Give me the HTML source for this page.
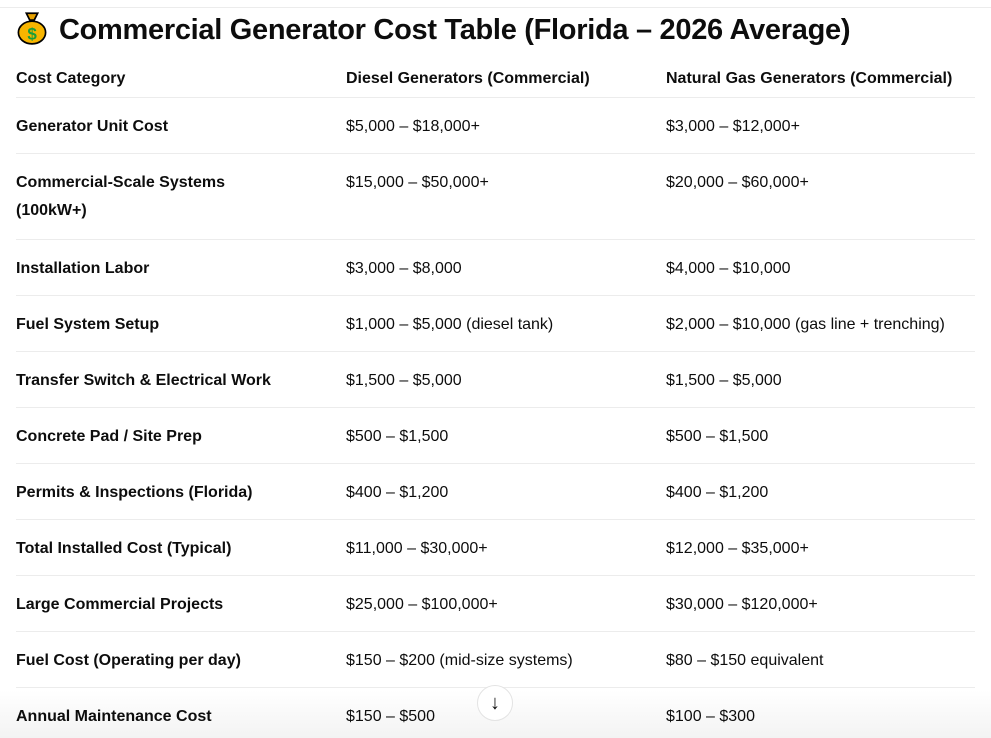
<!DOCTYPE html>
<html><head><meta charset="utf-8"><style>
body{margin:0;width:991px;height:738px;background:#fff;font-family:"Liberation Sans",sans-serif;color:#0d0d0d;overflow:hidden;position:relative}
.top{position:absolute;left:0;top:7px;width:991px;height:1px;background:#ececec}
h1{position:absolute;left:16px;top:11px;margin:0;font-size:29px;font-weight:bold;line-height:38px;white-space:nowrap;letter-spacing:-0.3px}
.bag{display:inline-block;width:32px;height:34px;vertical-align:-6px;margin-right:11px}
.c{position:absolute;font-size:16px;line-height:28px;white-space:nowrap;z-index:2}
.b{font-weight:bold}
.h{font-weight:bold}
.sep{position:absolute;left:16px;width:959px;height:1px;background:#ececec}
.fade{position:absolute;left:0;top:690px;width:991px;height:48px;background:linear-gradient(rgba(255,255,255,0),rgba(243,243,243,1));z-index:1}
.btn{position:absolute;left:477px;top:685px;width:36px;height:36px;border-radius:50%;background:#fff;border:1px solid #e3e3e3;box-sizing:border-box;text-align:center;line-height:34px;font-size:20px;z-index:3}
</style></head><body>
<div class="top"></div>
<h1><svg class="bag" viewBox="0 0 28 30"><path d="M9 2h10l-3 6h-4z" fill="#e6a100" stroke="#000" stroke-width="1.5"/><ellipse cx="14" cy="19" rx="12" ry="10" fill="#f7b500" stroke="#000" stroke-width="1.5"/><text x="14" y="25" font-size="15" text-anchor="middle" fill="#1a9e3a" font-family="Liberation Sans" font-weight="bold">$</text></svg>Commercial Generator Cost Table (Florida – 2026 Average)</h1>
<div id="t"></div>
<div class="fade"></div>
<div class="btn">↓</div>
<script>
const cats=["Generator Unit Cost","Commercial-Scale Systems|(100kW+)","Installation Labor","Fuel System Setup","Transfer Switch & Electrical Work","Concrete Pad / Site Prep","Permits & Inspections (Florida)","Total Installed Cost (Typical)","Large Commercial Projects","Fuel Cost (Operating per day)","Annual Maintenance Cost"];
const diesel=["$5,000 – $18,000+","$15,000 – $50,000+","$3,000 – $8,000","$1,000 – $5,000 (diesel tank)","$1,500 – $5,000","$500 – $1,500","$400 – $1,200","$11,000 – $30,000+","$25,000 – $100,000+","$150 – $200 (mid-size systems)","$150 – $500"];
const gas=["$3,000 – $12,000+","$20,000 – $60,000+","$4,000 – $10,000","$2,000 – $10,000 (gas line + trenching)","$1,500 – $5,000","$500 – $1,500","$400 – $1,200","$12,000 – $35,000+","$30,000 – $120,000+","$80 – $150 equivalent","$100 – $300"];
const headers=["Cost Category","Diesel Generators (Commercial)","Natural Gas Generators (Commercial)"];
const xs=[16,346,666];
const t=document.getElementById('t');
function cell(txt,x,y,cls,name){const d=document.createElement('div');d.className='c '+cls;d.style.left=x+'px';d.style.top=y+'px';d.innerHTML=txt.split('|').join('<br>');


t.appendChild(d);}
function sep(y,name){const s=document.createElement('div');s.className='sep';s.style.top=y+'px';


t.appendChild(s);}
headers.forEach((h,i)=>cell(h,xs[i],65,'h','header-'+i));
sep(97,'header-divider');
let y=98;
cats.forEach((c,i)=>{
 const h=c.includes('|')?85:55;
 cell(c,xs[0],y+15,'b','category-'+i);
 cell(diesel[i],xs[1],y+15,'','diesel-cost-'+i);
 cell(gas[i],xs[2],y+15,'','gas-cost-'+i);
 y+=h;
 if(i<cats.length-1){sep(y,'row-divider-'+i);y+=1;}
});
</script>
</body></html>
